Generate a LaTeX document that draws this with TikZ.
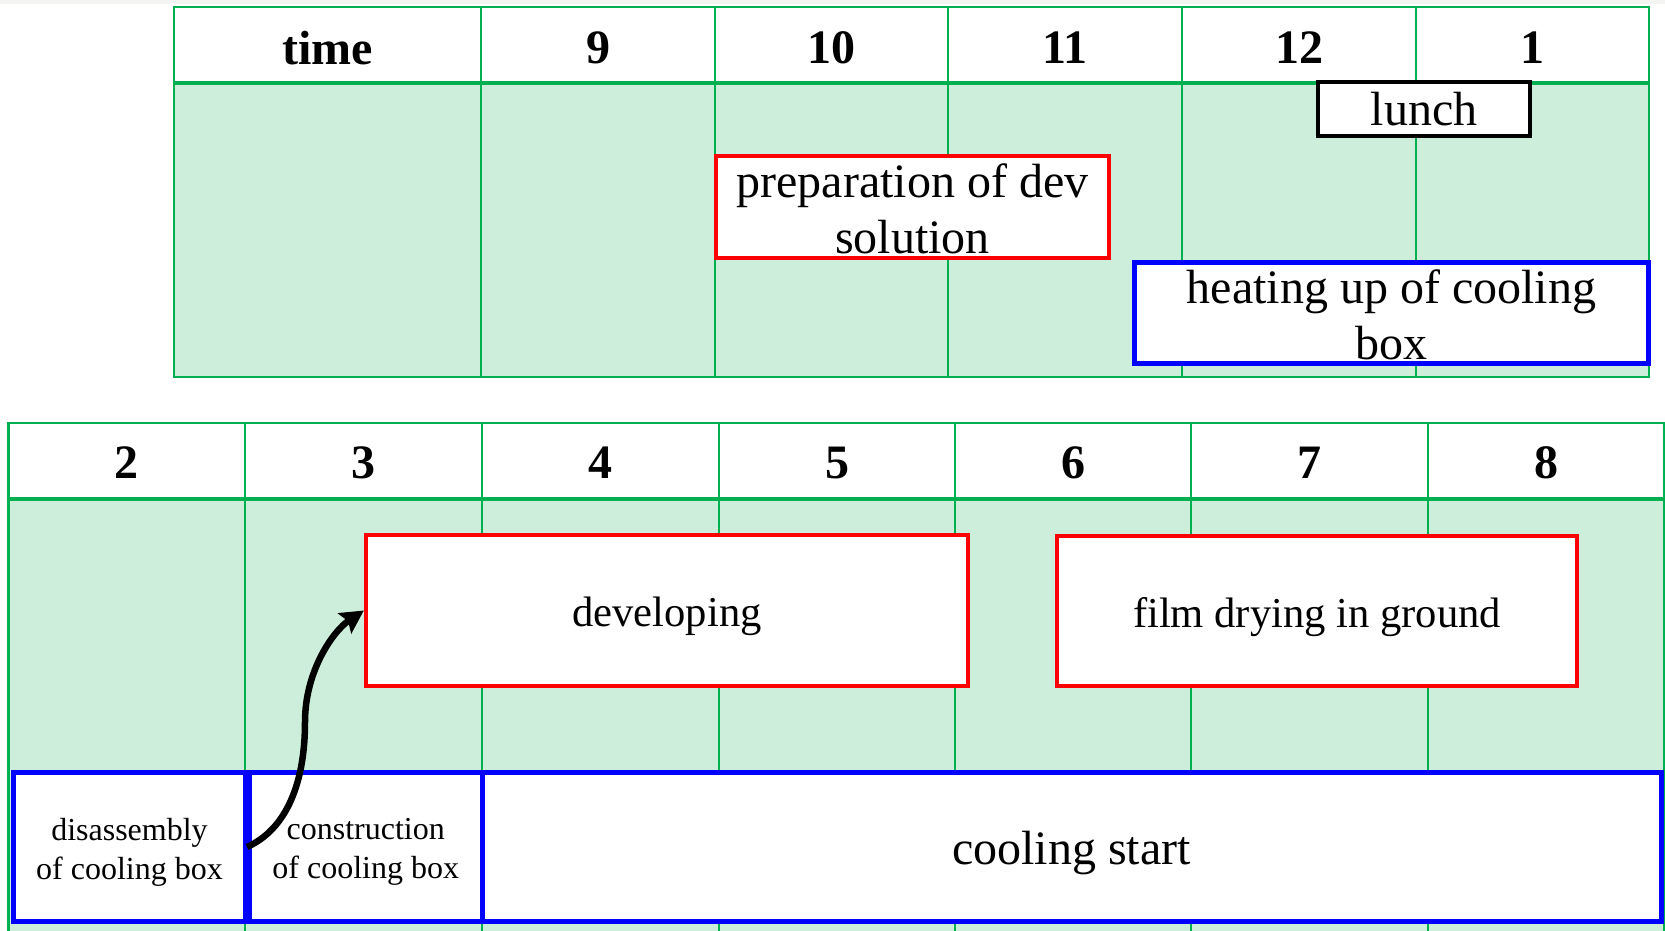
\documentclass[tikz,border=0pt]{standalone}
\usepackage{fontspec}
\setmainfont{Liberation Serif}
\usetikzlibrary{arrows.meta}
\definecolor{gridgreen}{HTML}{00B050}
\definecolor{cellfill}{RGB}{204,238,218}
\definecolor{taskred}{HTML}{FF0000}
\definecolor{taskblue}{HTML}{0000FF}
\definecolor{edgegray}{RGB}{244,244,242}
\begin{document}
\begin{tikzpicture}[x=1pt,y=-1pt,
  gridline/.style={draw=gridgreen,line width=2.2pt},
  headrule/.style={draw=gridgreen,line width=4pt},
  hourlabel/.style={font=\fontsize{48}{56}\selectfont\bfseries},
  taskbox/.style={draw,line width=4.3pt,fill=white,inner sep=0pt,align=center,
    font=\fontsize{48}{56}\selectfont},
  redtask/.style={taskbox,draw=taskred},
  bluetask/.style={taskbox,draw=taskblue,line width=5pt},
  smalltask/.style={bluetask,font=\fontsize{32}{39}\selectfont},
  arrowline/.style={line width=6.5pt,-{Stealth[length=23pt,width=24pt,inset=4pt]}},
]
\useasboundingbox (0,0) rectangle (1665,930);
\clip (0,0) rectangle (1665,930);
\fill[white] (0,0) rectangle (1665,930);
\fill[edgegray] (0,0) rectangle (1665,3.5);

% ---- morning table ----
\fill[cellfill] (174,83) rectangle (1649,377);
\foreach \x in {481,715,948,1182,1416}
  \draw[gridline] (\x,7) -- (\x,377);
\draw[gridline] (174,7) rectangle (1649,377);
\draw[headrule] (174,83) -- (1649,83);

\node[hourlabel] (hTime) at (327.5,48) {time};
\node[hourlabel] (h9)  at (598,48)   {9};
\node[hourlabel] (h10) at (831.5,48) {10};
\node[hourlabel] (h11) at (1065,48)  {11};
\node[hourlabel] (h12) at (1299,48)  {12};
\node[hourlabel] (h1)  at (1532.5,48) {1};

% ---- afternoon table ----
\fill[cellfill] (8.5,499) rectangle (1664,940);
\foreach \x in {245,482,719,955,1191,1428}
  \draw[gridline] (\x,423) -- (\x,940);
\draw[gridline] (8.5,423) rectangle (1664,940);
\draw[headrule] (8.5,499) -- (1664,499);

\node[hourlabel] (h2) at (126.75,463) {2};
\node[hourlabel] (h3) at (363.5,463)  {3};
\node[hourlabel] (h4) at (600.5,463)  {4};
\node[hourlabel] (h5) at (837,463)    {5};
\node[hourlabel] (h6) at (1073,463)   {6};
\node[hourlabel] (h7) at (1309.5,463) {7};
\node[hourlabel] (h8) at (1546,463)   {8};

% ---- tasks (box outlines) ----
\node[taskbox,draw=black,minimum width=212pt,minimum height=54pt] (lunch)
  at (1424,109) {lunch};
\node[redtask,minimum width=393pt,minimum height=102pt] (prep)
  at (912.5,207) {};
\node[bluetask,minimum width=514pt,minimum height=101pt] (heat)
  at (1391.5,313) {};
\node[redtask,minimum width=602pt,minimum height=151pt] (dev)
  at (667,610.5) {};
\node[redtask,minimum width=520pt,minimum height=150pt] (film)
  at (1317,611) {};
\node[smalltask,minimum width=232pt,minimum height=149pt] (disasm)
  at (129.5,847) {};
\node[smalltask,minimum width=232.5pt,minimum height=149pt] (constr)
  at (365.75,847) {};
\node[bluetask,minimum width=1179pt,minimum height=149pt] (cool)
  at (1071.5,847) {};

% ---- task texts (yshift is in page units: negative moves down) ----
\begin{scope}[every node/.style={align=center,inner sep=0pt}]
  \node[font=\fontsize{48}{56}\selectfont] (prepText)
    at ([yshift=-2pt]prep.center) {preparation of dev\\solution};
  \node[font=\fontsize{48}{56}\selectfont] (heatText)
    at ([yshift=-2pt]heat.center) {heating up of cooling\\box};
  \node[font=\fontsize{42.6}{50}\selectfont] (devText)
    at ([yshift=-6pt]dev.center) {developing};
  \node[font=\fontsize{42.6}{50}\selectfont] (filmText)
    at ([yshift=-6pt]film.center) {film drying in ground};
  \node[font=\fontsize{32}{39}\selectfont] (disasmText)
    at ([yshift=-5pt]disasm.center) {disassembly\\of cooling box};
  \node[font=\fontsize{32}{39}\selectfont] (constrText)
    at ([yshift=-5pt]constr.center) {construction\\of cooling box};
  \node[font=\fontsize{48}{56}\selectfont] (coolText)
    at ([yshift=-6pt]cool.center) {cooling start};
\end{scope}

% ---- dependency arrow ----
\coordinate (bend) at (305,722);
\draw[arrowline] (constr.west) .. controls +(40,-18) and +(0,60) .. (bend)
  .. controls +(0,-52) and +(-30,20) .. (dev.west);
\end{tikzpicture}
\end{document}
